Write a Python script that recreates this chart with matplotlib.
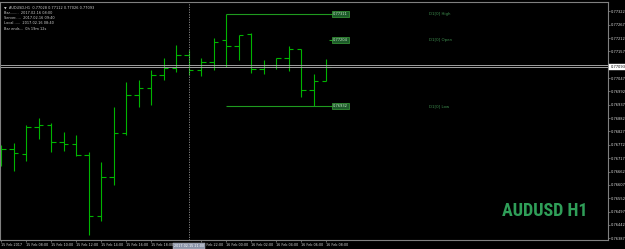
import matplotlib
matplotlib.use("Agg")
import matplotlib.pyplot as plt
import matplotlib.transforms as mtransforms
import numpy as np

# AUDUSD H1 bars, 15 Feb 2017 06:00 -> 16 Feb 2017 08:00
opens  = [0.76755, 0.76755, 0.76734, 0.76845, 0.76854, 0.76784, 0.76776, 0.76730, 0.76479,
          0.76639, 0.76821, 0.76977, 0.77006, 0.77060, 0.77089, 0.77142, 0.77080, 0.77113,
          0.77204, 0.77179, 0.77229, 0.77084, 0.77101, 0.77130, 0.77167, 0.76998, 0.77035]
highs  = [0.76771, 0.76780, 0.76854, 0.76883, 0.76862, 0.76825, 0.76812, 0.76742, 0.76701,
          0.76928, 0.77031, 0.77039, 0.77080, 0.77130, 0.77183, 0.77163, 0.77130, 0.77212,
          0.77311, 0.77224, 0.77233, 0.77121, 0.77130, 0.77179, 0.77167, 0.77064, 0.77126]
lows   = [0.76685, 0.76664, 0.76705, 0.76796, 0.76742, 0.76747, 0.76726, 0.76400, 0.76458,
          0.76606, 0.76812, 0.76928, 0.76936, 0.77039, 0.77072, 0.77060, 0.77056, 0.77080,
          0.77093, 0.77121, 0.77068, 0.77064, 0.77084, 0.77076, 0.76969, 0.76932, 0.77035]
closes = [0.76753, 0.76738, 0.76845, 0.76854, 0.76784, 0.76776, 0.76730, 0.76479, 0.76639,
          0.76821, 0.76977, 0.77006, 0.77060, 0.77089, 0.77142, 0.77080, 0.77113, 0.77196,
          0.77179, 0.77224, 0.77084, 0.77101, 0.77130, 0.77167, 0.76998, 0.77035, 0.77093]

bid = 0.77093
ask = 0.77102
d1_high, d1_open, d1_low = 0.77311, 0.77204, 0.76932
day_start = 18      # first bar of 16 Feb
crosshair_bar = 15  # 15 Feb 21:00

price_ticks = ["0.77322", "0.77267", "0.77212", "0.77157", "0.77047", "0.76992", "0.76937",
               "0.76882", "0.76827", "0.76772", "0.76717", "0.76662", "0.76607", "0.76552",
               "0.76497", "0.76442", "0.76387"]
time_ticks = [0, 2, 4, 6, 8, 10, 12, 16, 18, 20, 22, 24, 26]
time_labels = ["15 Feb 2017", "15 Feb 08:00", "15 Feb 10:00", "15 Feb 12:00", "15 Feb 14:00",
               "15 Feb 16:00", "15 Feb 18:00", "15 Feb 22:00", "16 Feb 00:00", "16 Feb 02:00",
               "16 Feb 04:00", "16 Feb 06:00", "16 Feb 08:00"]
info_lines = ["\u25bc  AUDUSD,H1  0.77028 0.77112 0.77026 0.77093",
              "Bar........  2017.02.16 08:00",
              "Server.....  2017.02.16 09:40",
              "Local......  2017.02.16 08:40",
              "Bar ends...  0h 19m 12s"]

W, H = 625, 249
fig = plt.figure(figsize=(W / 100, H / 100), dpi=100, facecolor="black")
ax = fig.add_axes([0, (H - 240) / H, 608 / W, 238 / H], facecolor="black")

bar_col = "#00b400"
lw = 0.8
x = np.arange(len(opens))
ax.vlines(x, lows, highs, color=bar_col, lw=lw)
ax.hlines(opens, x - 0.36, x, color=bar_col, lw=lw)
ax.hlines(closes, x, x + 0.36, color=bar_col, lw=lw)

# bid / ask lines
ax.axhline(ask, color="#a0a0a0", lw=0.7)
ax.axhline(bid, color="#a0a0a0", lw=0.7)

# crosshair
ax.axvline(crosshair_bar, color="#909090", lw=0.6, ls=(0, (1.5, 1.5)))

# D1 levels
box_x = 26.55
line_col = "#1f9a1f"
ax.hlines([d1_high, d1_low], day_start, box_x, color=line_col, lw=0.8)
ax.hlines(d1_open, box_x - 0.35, box_x, color=line_col, lw=0.8)
for val, name in [(d1_high, "High"), (d1_open, "Open"), (d1_low, "Low")]:
    ax.text(box_x, val, f"{val:.5f}", fontsize=2.6, color="#c8e8c8", va="center", ha="left",
            bbox=dict(boxstyle="square,pad=0.35", fc="#1d5a2a", ec="#3aa03a", lw=0.5))
    ax.text(34.2, val, f"D1[0] {name}", fontsize=2.8, color="#3f8f4f", va="center", ha="left")

ax.set_xlim(-0.08, 48.56)
ax.set_ylim(0.763799, 0.773604)

for s in ax.spines.values():
    s.set_color("#808080")
    s.set_linewidth(0.8)

ax.yaxis.tick_right()
ax.set_yticks([float(v) for v in price_ticks])
ax.set_yticklabels(price_ticks)
ax.tick_params(axis="y", colors="#909090", length=1.5, width=0.5, labelsize=2.6,
               labelcolor="#d8d8d8", pad=0.8)
ax.set_xticks(time_ticks)
ax.set_xticklabels(time_labels, ha="left")
ax.tick_params(axis="x", colors="#909090", length=1.5, width=0.5, labelsize=2.4,
               labelcolor="#d8d8d8", pad=1.0)

# current price label
tr = mtransforms.blended_transform_factory(ax.transAxes, ax.transData)
ax.text(1.004, bid, f"{bid:.5f}", transform=tr, fontsize=2.6, color="black", va="center",
        ha="left", bbox=dict(boxstyle="square,pad=0.3", fc="white", ec="white", lw=0.3),
        clip_on=False)

# crosshair time box
tr2 = mtransforms.blended_transform_factory(ax.transData, ax.transAxes)
ax.text(crosshair_bar, -0.018, "2017.02.15 21:00", transform=tr2, fontsize=2.4, color="white",
        va="top", ha="center", bbox=dict(boxstyle="square,pad=0.3", fc="#8a93a8", ec="#c0c0c0", lw=0.3),
        clip_on=False)

# info text top-left
for i, line in enumerate(info_lines):
    ax.text(0.006, 0.985 - i * 0.022, line, transform=ax.transAxes, fontsize=2.5,
            color="#d0d0d0", va="top", ha="left")

# watermark
ax.text(0.967, 0.122, "AUDUSD H1", transform=ax.transAxes, fontsize=13, fontweight="bold",
        color="#2f9e58", ha="right", va="center",
        family=["Roboto Condensed", "Roboto", "DejaVu Sans"], fontstretch="condensed")

fig.savefig("out.png", dpi=100, facecolor="black")
